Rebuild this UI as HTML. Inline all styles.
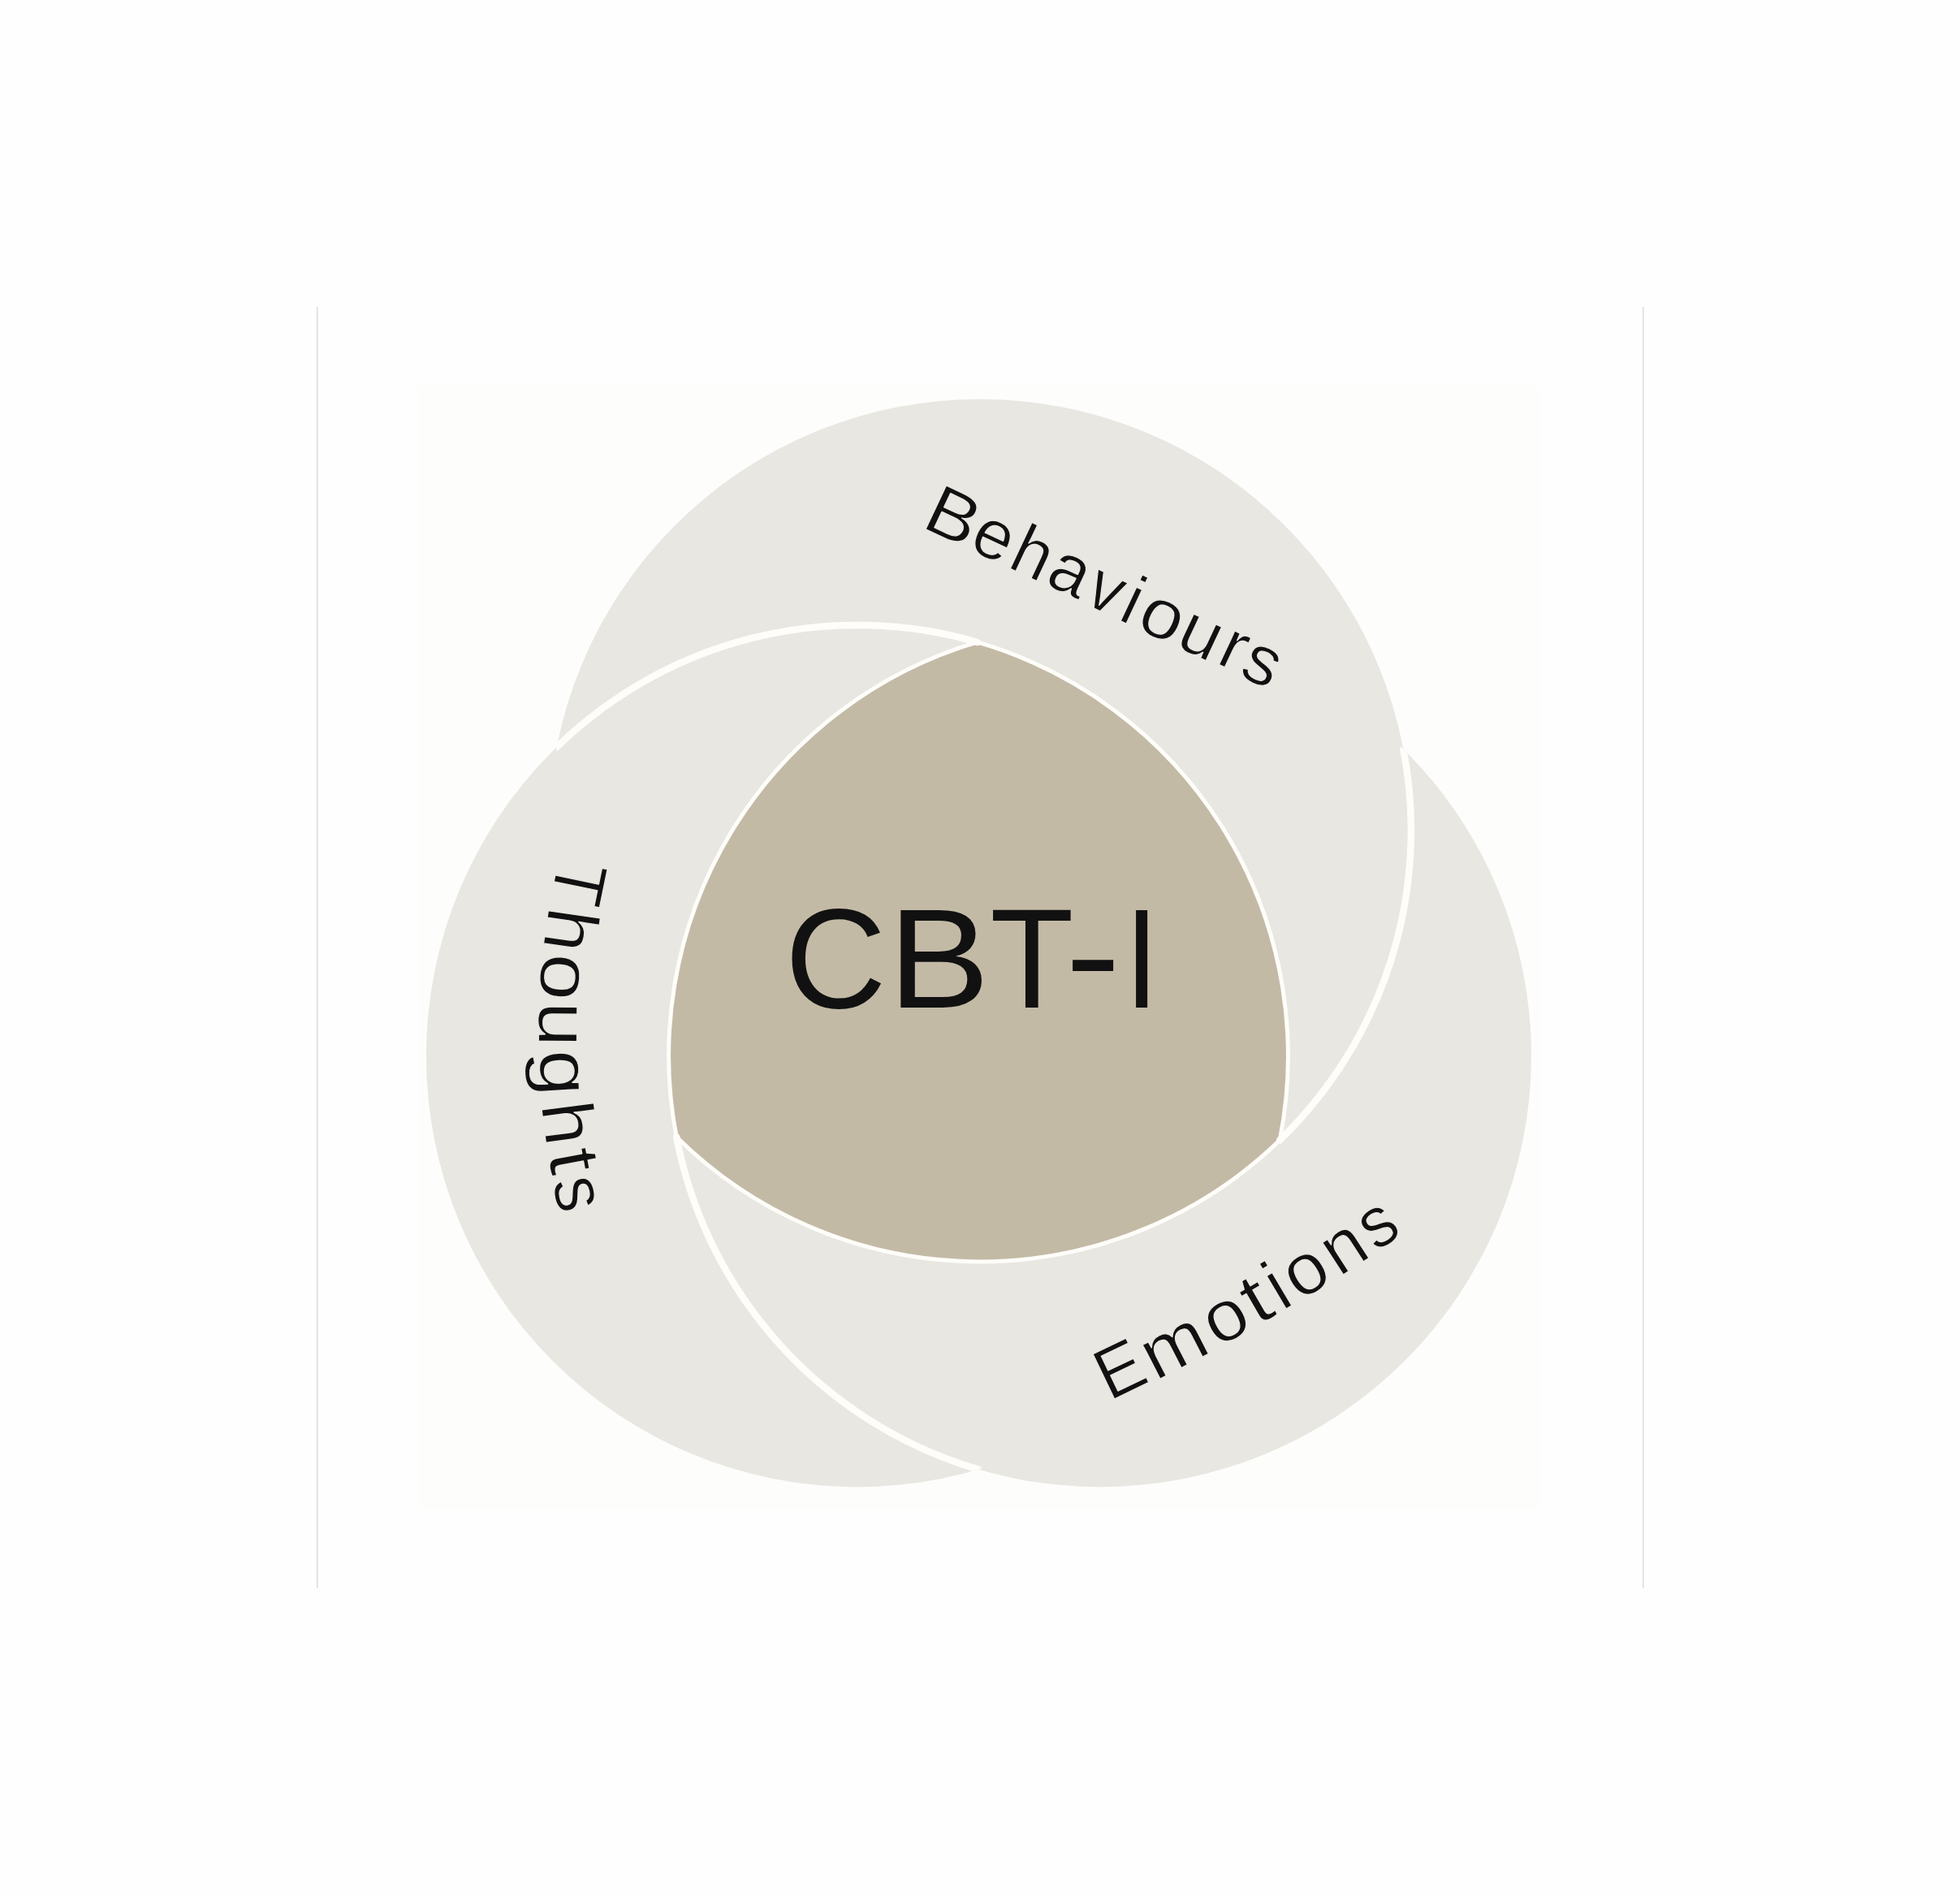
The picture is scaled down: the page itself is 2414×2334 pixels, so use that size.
<!DOCTYPE html>
<html><head><meta charset="utf-8"><style>
html,body{margin:0;padding:0;background:#fefefe;}
svg{display:block;}
text{font-family:"Liberation Sans",sans-serif;fill:#111111;}
</style></head><body>
<svg width="2414" height="2334" viewBox="0 0 2414 2334">
<rect x="0" y="0" width="2414" height="2334" fill="#fefefe"/>
<rect x="515" y="475" width="1383" height="1383" fill="#fdfdfb"/>
<rect x="390" y="378" width="1.5" height="1578" fill="#dcdcdc"/>
<rect x="2023" y="378" width="1.5" height="1578" fill="#dcdcdc"/>
<g fill="#e9e7e2">
<circle cx="1206.78" cy="1022.75" r="531.15"/>
<circle cx="1055.68" cy="1300.65" r="530.74"/>
<circle cx="1354.81" cy="1300.21" r="531.19"/>
</g>
<path d="M1203.70,790.97 A530.74,530.74 0 0 1 1576.18,1404.41 A531.15,531.15 0 0 1 833.12,1400.24 A531.19,531.19 0 0 1 1203.70,790.97 Z" fill="#c3baa6"/>
<defs>
<clipPath id="cB"><circle cx="1206.78" cy="1022.75" r="531.15"/></clipPath>
<clipPath id="cT"><circle cx="1055.68" cy="1300.65" r="530.74"/></clipPath>
<clipPath id="cE"><circle cx="1354.81" cy="1300.21" r="531.19"/></clipPath>
</defs>
<g fill="none" stroke="#fefdf9" stroke-width="8.5" stroke-linecap="round">
<path d="M685.62,920.20 A530.74,530.74 0 0 1 1203.70,790.97" clip-path="url(#cB)"/>
<path d="M1576.18,1404.41 A531.15,531.15 0 0 0 1728.40,922.60" clip-path="url(#cE)"/>
<path d="M833.12,1400.24 A531.19,531.19 0 0 0 1205.20,1809.89" clip-path="url(#cT)"/>
</g>
<g fill="none" stroke="#fefdf9" stroke-width="5" stroke-linecap="round">
<path d="M1203.70,790.97 A530.74,530.74 0 0 1 1576.18,1404.41"/>
<path d="M833.12,1400.24 A531.15,531.15 0 0 0 1576.18,1404.41"/>
<path d="M1203.70,790.97 A531.19,531.19 0 0 0 833.12,1400.24"/>
</g>
<g font-size="86.60" stroke="#e9e7e2" stroke-width="1.20" stroke-linejoin="round"><text transform="translate(1133.06 648.60) rotate(25.20) scale(1.100 1)">B</text><text transform="translate(1190.95 675.50) rotate(25.20) scale(1.000 1)">e</text><text transform="translate(1239.03 697.66) rotate(25.20) scale(0.980 1)">h</text><text transform="translate(1285.06 718.43) rotate(25.20) scale(1.000 1)">a</text><text transform="translate(1332.66 742.20) rotate(25.20) scale(0.950 1)">v</text><text transform="translate(1374.91 762.15) rotate(25.20) scale(1.000 1)">i</text><text transform="translate(1396.67 772.87) rotate(25.20) scale(1.090 1)">o</text><text transform="translate(1445.39 795.06) rotate(25.20) scale(1.040 1)">u</text><text transform="translate(1496.11 815.88) rotate(25.20) scale(1.010 1)">r</text><text transform="translate(1524.01 831.58) rotate(25.20) scale(1.000 1)">s</text></g>
<g font-size="89.40" stroke="#e9e7e2" stroke-width="1.20" stroke-linejoin="round"><text transform="translate(688.23 1056.55) rotate(-258.37) scale(0.950 1)">T</text><text transform="translate(676.23 1114.93) rotate(-261.75) scale(1.080 1)">h</text><text transform="translate(667.96 1172.81) rotate(-265.69) scale(1.160 1)">o</text><text transform="translate(663.67 1233.42) rotate(-269.45) scale(1.120 1)">u</text><text transform="translate(663.55 1294.29) rotate(86.73) scale(1.150 1)">g</text><text transform="translate(666.27 1360.17) rotate(82.62) scale(1.080 1)">h</text><text transform="translate(674.61 1420.19) rotate(79.46) scale(1.200 1)">t</text><text transform="translate(679.76 1455.42) rotate(76.89) scale(0.950 1)">s</text></g>
<g font-size="89.00" stroke="#e9e7e2" stroke-width="1.20" stroke-linejoin="round"><text transform="translate(1366.20 1726.12) rotate(-25.68) scale(0.970 1)">E</text><text transform="translate(1422.94 1701.36) rotate(-27.31) scale(1.080 1)">m</text><text transform="translate(1499.86 1660.34) rotate(-29.01) scale(1.050 1)">o</text><text transform="translate(1548.43 1633.17) rotate(-30.10) scale(1.200 1)">t</text><text transform="translate(1579.10 1615.01) rotate(-30.74) scale(1.000 1)">i</text><text transform="translate(1600.48 1602.88) rotate(-31.67) scale(1.030 1)">o</text><text transform="translate(1649.16 1573.32) rotate(-32.94) scale(1.000 1)">n</text><text transform="translate(1694.97 1542.15) rotate(-34.14) scale(0.920 1)">s</text></g>
<text transform="translate(966.72 1241.00) scale(0.9880 1.0000)" font-size="175.00">C</text>
<text transform="translate(1094.05 1241.00) scale(1.0693 1.0000)" font-size="175.00">B</text>
<text transform="translate(1219.20 1241.00) scale(0.9661 1.0000)" font-size="175.00">T</text>
<text transform="translate(1311.90 1236.00) scale(1.1703 1.0000)" font-size="175.00">-</text>
<text transform="translate(1385.15 1241.00) scale(0.8578 1.0000)" font-size="175.00">I</text>
</svg>
</body></html>
